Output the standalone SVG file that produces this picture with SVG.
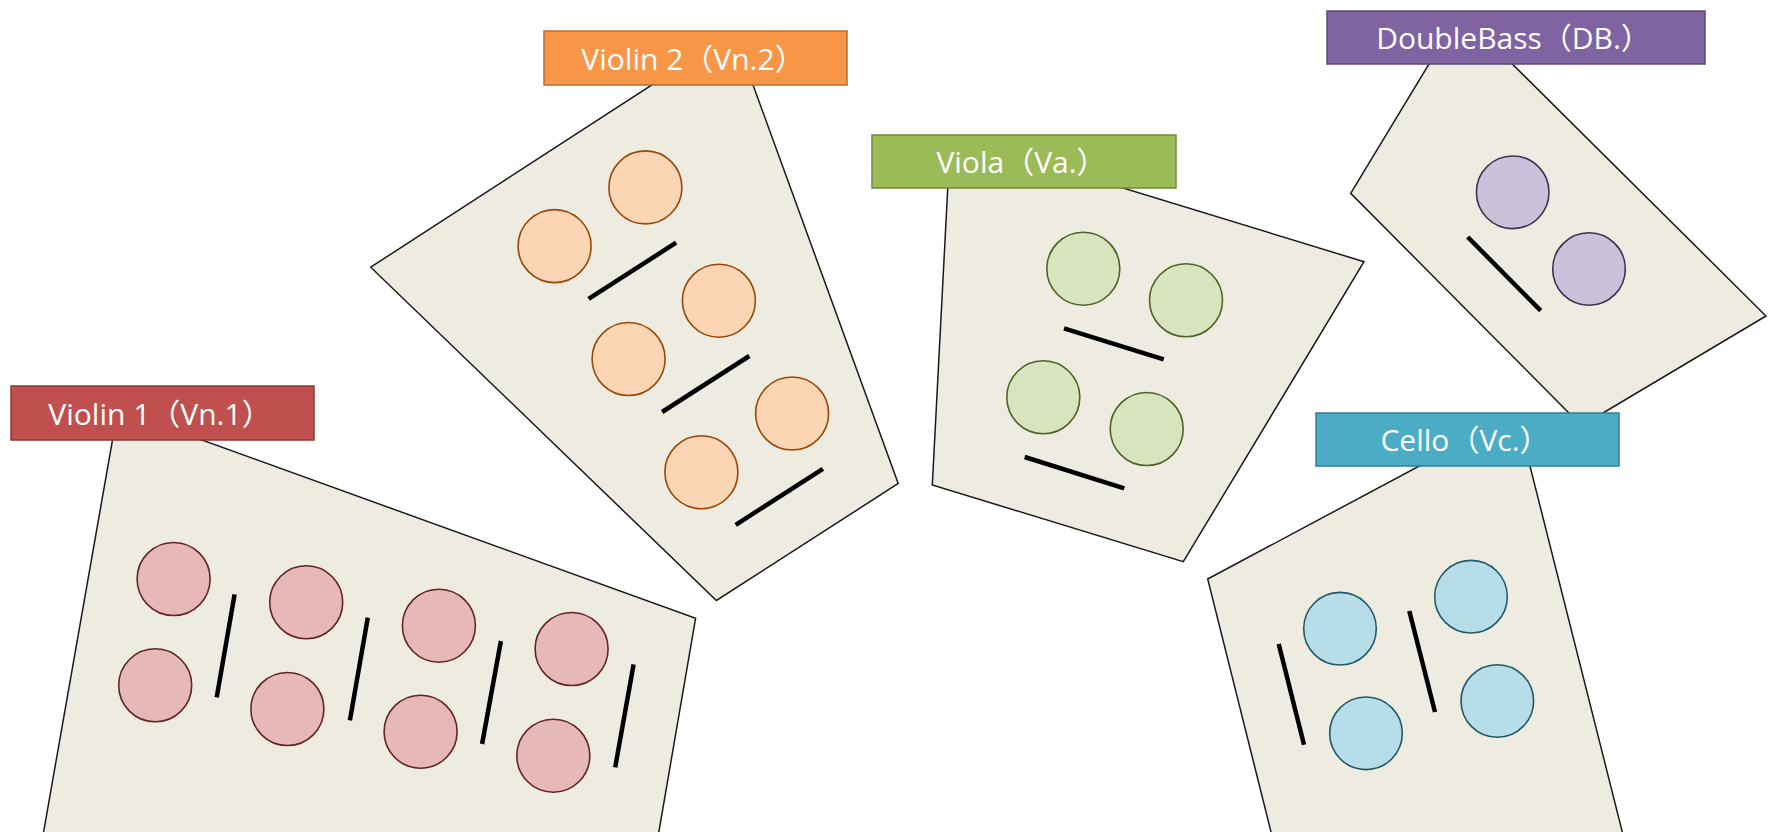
<svg xmlns="http://www.w3.org/2000/svg" width="1774" height="832" viewBox="0 0 1774 832">
  <style>
    .area { fill: #EEECE1; stroke: #1a1a1a; stroke-width: 1.5; stroke-linejoin: miter; }
    .stand { stroke: #000; stroke-width: 4.5; stroke-linecap: butt; }
    .lbl { stroke-width: 1.5; }
    .lbltxt { font-family: "Open Sans", "Noto Sans CJK JP", sans-serif; font-size: 30px; fill: #fff; text-anchor: middle; }
    .vn1 { fill: #E6B9B8; stroke: #632523; stroke-width: 1.6; }
    .vn2 { fill: #FCD5B5; stroke: #984807; stroke-width: 1.6; }
    .va  { fill: #D7E4BD; stroke: #4F6228; stroke-width: 1.6; }
    .db  { fill: #CCC1DA; stroke: #3F3151; stroke-width: 1.6; }
    .vc  { fill: #B7DEE8; stroke: #215968; stroke-width: 1.6; }
  </style>
  <rect width="1774" height="832" fill="#fff"/>

  <!-- Violin 1 section -->
  <g id="violin1">
    <polygon class="area" points="116,420 146.6,420 695.6,618.3 656.6,845 41.3,845"/>
    <circle class="vn1" cx="173.6" cy="579" r="36.5"/>
    <circle class="vn1" cx="306.2" cy="602.3" r="36.5"/>
    <circle class="vn1" cx="438.9" cy="625.7" r="36.5"/>
    <circle class="vn1" cx="571.6" cy="649" r="36.5"/>
    <circle class="vn1" cx="155.2" cy="685.3" r="36.5"/>
    <circle class="vn1" cx="287.4" cy="709" r="36.5"/>
    <circle class="vn1" cx="420.6" cy="731.7" r="36.5"/>
    <circle class="vn1" cx="553.3" cy="755.7" r="36.5"/>
    <line class="stand" x1="234.6" y1="594.3" x2="216.7" y2="697.3"/>
    <line class="stand" x1="367.8" y1="617.7" x2="349.9" y2="720.3"/>
    <line class="stand" x1="500.9" y1="641" x2="482.1" y2="744"/>
    <line class="stand" x1="633.6" y1="664.3" x2="615.2" y2="767.3"/>
    <rect class="lbl" x="11" y="386" width="303" height="54" fill="#C0504D" stroke="#8C3836"/>
    <text class="lbltxt" x="160" y="424.5">Violin 1（Vn.1）</text>
  </g>

  <!-- Violin 2 section -->
  <g id="violin2">
    <polygon class="area" points="690.2,60 743.9,60 898.2,483.5 716.4,600.5 370.7,267.2"/>
    <circle class="vn2" cx="554.6" cy="246.1" r="36.5"/>
    <circle class="vn2" cx="645.4" cy="187.4" r="36.5"/>
    <circle class="vn2" cx="718.9" cy="300.7" r="36.5"/>
    <circle class="vn2" cx="628.6" cy="359" r="36.5"/>
    <circle class="vn2" cx="792.1" cy="413.5" r="36.5"/>
    <circle class="vn2" cx="701.4" cy="472.2" r="36.5"/>
    <line class="stand" x1="588.6" y1="298.8" x2="676.1" y2="242.7"/>
    <line class="stand" x1="662.1" y1="412" x2="749.3" y2="356"/>
    <line class="stand" x1="735.7" y1="524.9" x2="822.9" y2="468.8"/>
    <rect class="lbl" x="544" y="31" width="303" height="54" fill="#F79646" stroke="#B66D31"/>
    <text class="lbltxt" x="693" y="69.5">Violin 2（Vn.2）</text>
  </g>

  <!-- Viola section -->
  <g id="viola">
    <polygon class="area" points="949.2,160 1031.5,160 1364,261.7 1183.3,561.7 932.3,485"/>
    <circle class="va" cx="1083.3" cy="268.7" r="36.5"/>
    <circle class="va" cx="1186" cy="300.3" r="36.5"/>
    <circle class="va" cx="1043.3" cy="397.3" r="36.5"/>
    <circle class="va" cx="1146.7" cy="429" r="36.5"/>
    <line class="stand" x1="1064" y1="328.3" x2="1163.7" y2="359.3"/>
    <line class="stand" x1="1024.7" y1="457" x2="1124.3" y2="488.3"/>
    <rect class="lbl" x="872" y="135" width="304" height="53" fill="#9BBB59" stroke="#71893F"/>
    <text class="lbltxt" x="1021.5" y="173.3">Viola（Va.）</text>
  </g>

  <!-- Double bass section -->
  <g id="doublebass">
    <polygon class="area" points="1443.5,40 1488.1,40 1766,316 1581.6,425.7 1350.7,193.3"/>
    <circle class="db" cx="1512.7" cy="192.3" r="36.3"/>
    <circle class="db" cx="1589" cy="269" r="36.3"/>
    <line class="stand" x1="1467.7" y1="237" x2="1540.7" y2="310.7"/>
    <rect class="lbl" x="1327" y="11" width="378" height="53" fill="#8064A2" stroke="#5C4776"/>
    <text class="lbltxt" x="1513.5" y="49">DoubleBass（DB.）</text>
  </g>

  <!-- Cello section -->
  <g id="cello">
    <polygon class="area" points="1468,440 1523.4,440 1625.6,845 1274.3,845 1207.7,579"/>
    <circle class="vc" cx="1340" cy="628.7" r="36.3"/>
    <circle class="vc" cx="1471" cy="596.7" r="36.3"/>
    <circle class="vc" cx="1366" cy="733.3" r="36.3"/>
    <circle class="vc" cx="1497.3" cy="701" r="36.3"/>
    <line class="stand" x1="1278.7" y1="644" x2="1304" y2="744.7"/>
    <line class="stand" x1="1409.3" y1="611" x2="1435" y2="712"/>
    <rect class="lbl" x="1316" y="413" width="303" height="53" fill="#4BACC6" stroke="#357D91"/>
    <text class="lbltxt" x="1465" y="451">Cello（Vc.）</text>
  </g>

  <!-- no connectors between sections -->
  <g id="connectors"/>
</svg>
